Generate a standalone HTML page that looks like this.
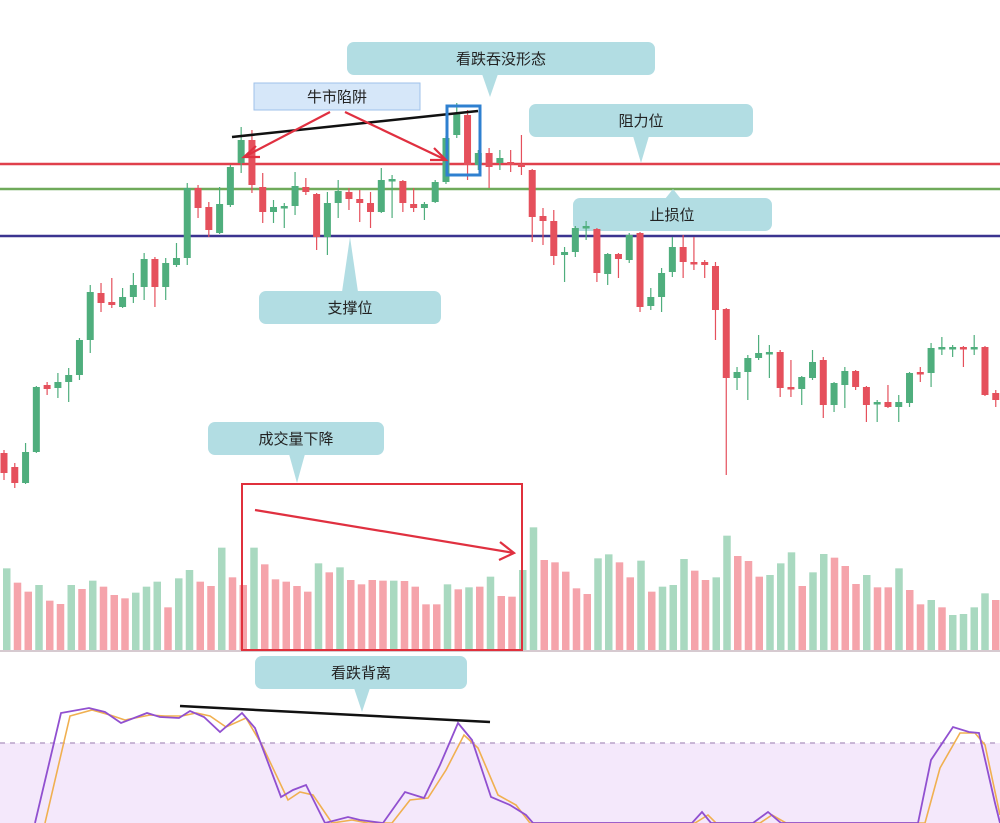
<!DOCTYPE html>
<html><head><meta charset="utf-8"><style>
html,body{margin:0;padding:0;background:#fff;width:1000px;height:823px;overflow:hidden}
svg{display:block}
text{font-family:"Liberation Sans","Noto Sans CJK SC",sans-serif;font-size:15px;fill:#222;text-anchor:middle}
</style></head><body>
<svg id="s" width="1000" height="823" viewBox="0 0 1000 823" xmlns="http://www.w3.org/2000/svg">
<rect x="0" y="743" width="1000" height="80" fill="#f4e8fb"/>
<line x1="0" y1="743" x2="1000" y2="743" stroke="#b9a3c9" stroke-width="1.5" stroke-dasharray="5,5"/>
<g id="vol"></g>
<line x1="0" y1="651" x2="1000" y2="651" stroke="#c8b8c0" stroke-width="1.5"/>
<line x1="0" y1="164" x2="1000" y2="164" stroke="#e0404c" stroke-width="2.5"/>
<line x1="0" y1="189" x2="1000" y2="189" stroke="#6faa5a" stroke-width="2.5"/>
<g fill="#b2dde3">
<rect x="347" y="42" width="308" height="33" rx="7"/><polygon points="482,74 498,74 490,97"/>
<rect x="529" y="104" width="224" height="33" rx="7"/><polygon points="633,136 649,136 641,163"/>
<rect x="573" y="198" width="199" height="33" rx="7"/><polygon points="665,199 681,199 673,189"/>
<rect x="259" y="291" width="182" height="33" rx="7"/><polygon points="342,292 358,292 350,237"/>
<rect x="208" y="422" width="176" height="33" rx="7"/><polygon points="289,454 305,454 297,483"/>
<rect x="255" y="656" width="212" height="33" rx="7"/><polygon points="354,688 370,688 362,712"/>
</g>
<line x1="0" y1="236" x2="1000" y2="236" stroke="#3b3490" stroke-width="2.5"/>
<g id="cdl"></g>
<polyline id="dl" fill="none" stroke="#f0b050" stroke-width="1.6"/>
<polyline id="kl" fill="none" stroke="#9150d0" stroke-width="1.8"/>
<line x1="232" y1="137" x2="478" y2="111" stroke="#111" stroke-width="2.5"/>
<line x1="180" y1="706" x2="490" y2="722" stroke="#111" stroke-width="2.5"/>
<rect x="447" y="106" width="33" height="69" fill="none" stroke="#2f80d0" stroke-width="3"/>
<rect x="242" y="484" width="280" height="166" fill="none" stroke="#e0303c" stroke-width="2"/>
<g stroke="#e03040" stroke-width="2.2" fill="none">
<line x1="330" y1="112" x2="244" y2="157"/><polyline points="256,146 244,157 260,157"/>
<line x1="345" y1="112" x2="446" y2="160"/><polyline points="434,148 446,160 430,160"/>
<line x1="255" y1="510" x2="514" y2="553"/><polyline points="500,542 514,553 499,560"/>
</g>
<rect x="254" y="83" width="166" height="27" fill="#d6e7f9" stroke="#9fc2ea" stroke-width="1"/>
<text x="501" y="64">看跌吞没形态</text>
<text x="337" y="102">牛市陷阱</text>
<text x="641" y="126">阻力位</text>
<text x="672" y="220">止损位</text>
<text x="350" y="313">支撑位</text>
<text x="296" y="444">成交量下降</text>
<text x="361" y="678">看跌背离</text>
</svg>
<script>
var NS="http://www.w3.org/2000/svg";
function el(p,t,a){var e=document.createElementNS(NS,t);for(var k in a)e.setAttribute(k,a[k]);p.appendChild(e);}
var C=[['r',453,473,450,480],['r',467,483,463,488],['g',452,483,443,484],['g',387,452,386,453],['r',385,389,382,395],['g',382,388,373,398],['g',375,382,368,402],['g',340,375,338,380],['g',292,340,285,353],['r',293,303,283,312],['r',302,305,278,308],['g',297,307,288,308],['g',285,297,273,303],['g',259,287,253,300],['r',259,287,257,307],['g',263,287,258,300],['g',258,265,243,267],['g',188,258,183,265],['r',188,208,185,218],['r',207,230,202,237],['g',204,233,187,234],['g',167,205,165,207],['g',140,163,127,173],['r',140,185,130,193],['r',187,212,173,223],['g',207,212,200,223],['g',206,208,203,228],['g',186,206,172,215],['r',187,192,178,195],['r',194,237,193,250],['g',203,237,192,255],['g',191,203,180,218],['r',192,199,188,210],['r',199,203,190,222],['r',203,212,192,228],['g',180,212,168,213],['g',179,181,175,218],['r',181,203,180,212],['r',204,208,188,212],['g',204,208,202,220],['g',182,202,180,203],['g',138,182,136,184],['g',113,135,103,138],['r',115,165,110,180],['g',153,165,150,170],['r',153,167,148,188],['g',158,163,150,170],['r',162,165,150,172],['r',164,167,135,175],['r',170,217,169,242],['r',216,221,208,245],['r',221,256,210,265],['g',252,255,247,282],['g',228,252,226,257],['g',226,228,221,240],['r',229,273,228,282],['g',254,274,253,285],['r',254,259,253,278],['g',235,260,233,263],['r',233,307,232,312],['g',297,306,288,310],['g',273,297,268,312],['g',247,272,237,277],['r',247,262,235,278],['r',262,264,237,270],['r',262,265,260,278],['r',266,310,262,340],['r',309,378,308,475],['g',372,378,367,390],['g',358,372,355,400],['g',353,358,335,360],['g',352,354,345,378],['r',352,388,350,397],['r',387,389,360,397],['g',377,389,376,405],['g',362,378,350,380],['r',360,405,357,418],['g',383,405,382,412],['g',371,385,367,408],['r',371,387,370,390],['r',387,405,386,422],['g',402,404,400,422],['r',402,407,385,408],['g',402,407,395,422],['g',373,403,372,407],['r',372,374,367,382],['g',348,373,343,387],['g',347,349,337,355],['g',347,349,345,357],['r',347,349,346,367],['g',347,349,335,355],['r',347,395,346,396],['r',393,400,390,407]];
var cg=document.getElementById('cdl');
for(var i=0;i<C.length;i++){var c=C[i],x=4+10.78*i,col=c[0]=='g'?'#4fae7d':'#e5505c';
el(cg,'line',{x1:x,y1:c[3],x2:x,y2:c[4],stroke:col,'stroke-width':1.2});
var h=Math.max(c[2]-c[1],2.5);el(cg,'rect',{x:x-3.5,y:c[1],width:7,height:h,fill:col});}
var V="g145 r188 r215 g195 r242 r252 g195 r207 g182 r200 r225 r235 g218 g200 g185 r262 g175 g150 r185 r198 g83 r172 r195 g83 r133 r178 r185 r198 r215 g130 r157 g142 r180 r193 r180 r182 g182 r183 r200 r253 r253 g193 r208 g202 r200 g170 r228 r230 g150 g22 r120 r127 r155 r205 r222 g115 g103 r127 r172 g122 r215 g200 g195 g117 r152 r180 g172 g47 r108 r123 r170 g165 g130 g97 r198 g157 g102 r113 r138 r192 g165 r202 r202 g145 r210 r253 g240 r262 g285 g282 g262 g220 r240".split(' ');
var vg=document.getElementById('vol');
for(var i=0;i<V.length;i++){var t=520+parseInt(V[i].slice(1))/3;
el(vg,'rect',{x:10.75*i+3,y:t,width:7.5,height:650-t,fill:V[i][0]=='g'?'#a9d9c0':'#f5a4ab'});}
var K=[[35,823],[61,713],[89,708],[105,712],[121,723],[147,713],[160,717],[179,718],[190,711],[204,717],[220,732],[242,713],[255,728],[281,797],[293,790],[306,785],[325,823],[348,817],[360,820],[383,823],[405,792],[424,798],[440,765],[458,723],[472,740],[491,797],[510,805],[526,815],[533,823],[692,823],[702,812],[711,823],[753,823],[768,812],[781,823],[918,823],[931,760],[953,727],[969,732],[979,733],[995,803],[1000,823]];
var D=[[45,823],[70,716],[92,710],[110,715],[125,720],[150,715],[165,716],[182,716],[196,713],[210,716],[226,727],[246,718],[262,745],[288,800],[300,792],[313,795],[332,823],[352,820],[368,823],[392,823],[410,800],[428,798],[446,770],[464,735],[478,748],[498,795],[516,805],[530,823],[695,823],[708,815],[716,823],[760,823],[772,815],[786,823],[925,823],[940,768],[960,733],[975,733],[985,745],[1000,815]];
document.getElementById('kl').setAttribute('points',K.map(function(p){return p.join(',')}).join(' '));
document.getElementById('dl').setAttribute('points',D.map(function(p){return p.join(',')}).join(' '));
</script>
</body></html>
